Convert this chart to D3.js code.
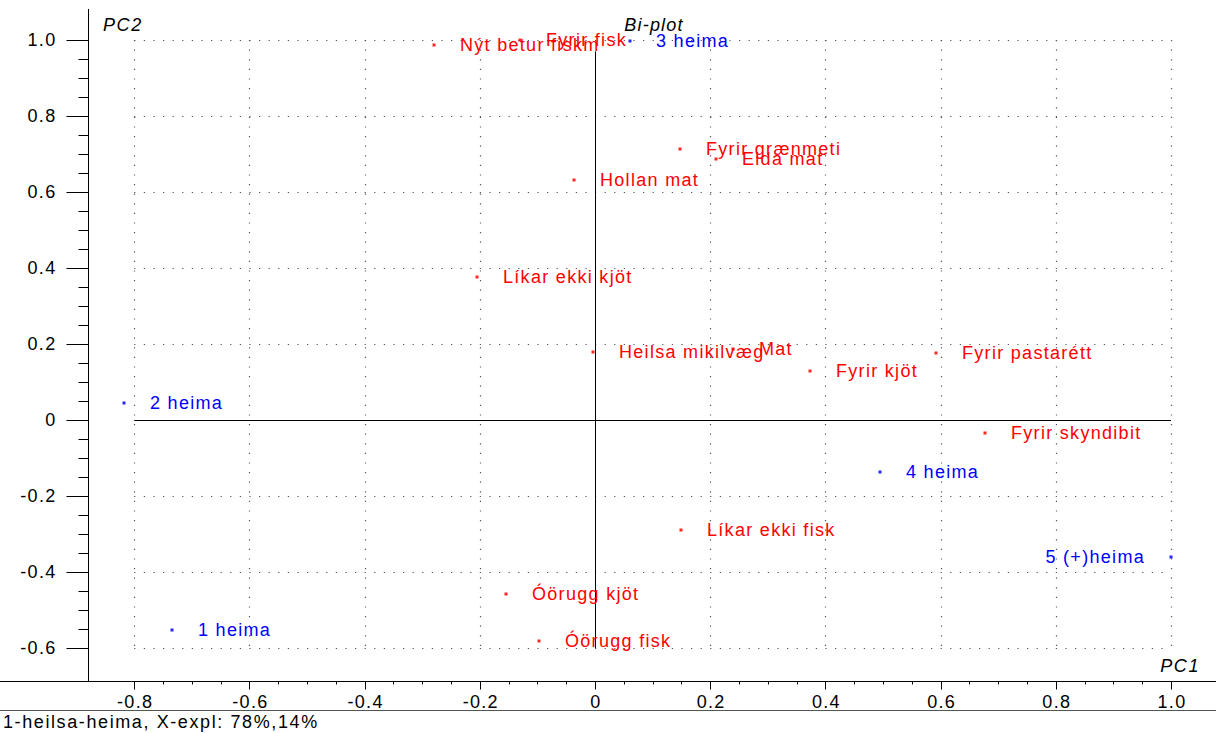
<!DOCTYPE html>
<html>
<head>
<meta charset="utf-8">
<script src="https://cdn.jsdelivr.net/npm/d3@7"></script>
<style>
  body { margin: 0; background: #fff; }
  svg { font-family: Arial, "Liberation Sans", sans-serif; }
</style>
</head>
<body>
<svg id="chart"></svg>
<script>
// Labels, PC1 and PC2 values, and which group each point belongs to
const labels = ['Nýt betur fiskm', 'Fyrir fisk', '3 heima', 'Fyrir grænmeti', 'Elda mat', 'Hollan mat',
  'Líkar ekki kjöt', 'Heilsa mikilvæg', 'Mat', 'Fyrir kjöt', 'Fyrir pastarétt', 'Fyrir skyndibit',
  '4 heima', 'Líkar ekki fisk', '5 (+)heima', '2 heima', '1 heima', 'Óörugg kjöt', 'Óörugg fisk'];
const pc1 = [-0.280, -0.130, 0.061, 0.148, 0.210, -0.036, -0.205, -0.003, 0.240, 0.373, 0.592, 0.677,
  0.495, 0.149, 1.000, -0.818, -0.734, -0.155, -0.097];
const pc2 = [0.987, 1.000, 0.997, 0.713, 0.688, 0.632, 0.376, 0.179, 0.187, 0.129, 0.176, -0.034,
  -0.137, -0.289, -0.360, 0.045, -0.553, -0.458, -0.582];
const kind = ['var', 'var', 'obj', 'var', 'var', 'var', 'var', 'var', 'var', 'var', 'var', 'var',
  'obj', 'var', 'obj', 'obj', 'obj', 'var', 'var'];
const majorTicksX = [-0.8, -0.6, -0.4, -0.2, 0, 0.2, 0.4, 0.6, 0.8, 1.0];
const majorTicksY = [-0.6, -0.4, -0.2, 0, 0.2, 0.4, 0.6, 0.8, 1.0];
const footer = '1-heilsa-heima, X-expl: 78%,14%';

const width = 1216, height = 733;
const axisX = 88, axisY = 681;
const spacing = '1.3px';

const svg = d3.select('#chart')
  .attr('width', width)
  .attr('height', height);

const x = d3.scaleLinear().domain([-0.8, 1.0]).range([134.2, 1171]);
const y = d3.scaleLinear().domain([-0.6, 1.0]).range([648, 40]);

const minorX = d3.range(-0.8, 1.0001, 0.05).map(v => +v.toFixed(2));
const minorY = d3.range(-0.6, 1.0001, 0.05).map(v => +v.toFixed(2));

// Dotted grid at each major tick
const grid = svg.append('g').attr('class', 'grid')
  .attr('stroke', '#555').attr('stroke-width', 1.2)
  .attr('stroke-dasharray', '1.2,8.4');
grid.selectAll('.gx').data(majorTicksX.filter(d => d !== 0)).enter().append('line')
  .attr('x1', d => Math.round(x(d)) + 0.5).attr('x2', d => Math.round(x(d)) + 0.5)
  .attr('y1', y(1.0)).attr('y2', y(-0.6));
grid.selectAll('.gy').data(majorTicksY.filter(d => d !== 0)).enter().append('line')
  .attr('y1', d => Math.round(y(d)) + 0.5).attr('y2', d => Math.round(y(d)) + 0.5)
  .attr('x1', x(-0.8)).attr('x2', x(1.0));

// Solid lines through the origin
svg.append('line')
  .attr('x1', x(-0.8)).attr('x2', x(1.0))
  .attr('y1', Math.round(y(0)) + 0.5).attr('y2', Math.round(y(0)) + 0.5)
  .attr('stroke', '#000');
svg.append('line')
  .attr('x1', Math.round(x(0)) + 0.5).attr('x2', Math.round(x(0)) + 0.5)
  .attr('y1', y(0.97)).attr('y2', y(-0.6))
  .attr('stroke', '#000');

// Y axis (ticks to the left)
const gy = svg.append('g').attr('transform', `translate(${axisX + 0.5},0)`);
gy.append('line').attr('y1', 9).attr('y2', axisY).attr('stroke', '#000');
gy.selectAll('.tk').data(minorY).enter().append('line')
  .attr('y1', d => Math.round(y(d)) + 0.5).attr('y2', d => Math.round(y(d)) + 0.5)
  .attr('x1', d => majorTicksY.some(m => Math.abs(m - d) < 1e-6) ? -22 : -10).attr('x2', 0)
  .attr('stroke', '#000');
gy.selectAll('.lb').data(majorTicksY).enter().append('text')
  .attr('x', -32).attr('y', d => y(d))
  .attr('dy', '0.36em')
  .attr('text-anchor', 'end')
  .attr('font-size', 18)
  .style('letter-spacing', spacing)
  .text(d => d === 0 ? '0' : d.toFixed(1));

// X axis (ticks downward)
const gx = svg.append('g').attr('transform', `translate(0,${axisY + 0.5})`);
gx.append('line').attr('x1', 0).attr('x2', width).attr('stroke', '#000');
gx.selectAll('.tk').data(minorX).enter().append('line')
  .attr('x1', d => Math.round(x(d)) + 0.5).attr('x2', d => Math.round(x(d)) + 0.5)
  .attr('y1', 0).attr('y2', d => majorTicksX.some(m => Math.abs(m - d) < 1e-6) ? 8 : 3)
  .attr('stroke', '#000');
gx.selectAll('.lb').data(majorTicksX).enter().append('text')
  .attr('x', d => x(d) + 1).attr('y', 26)
  .attr('text-anchor', 'middle')
  .attr('font-size', 18)
  .style('letter-spacing', spacing)
  .text(d => d === 0 ? '0' : d.toFixed(1));

// Separator and footer
svg.append('line').attr('x1', 0).attr('x2', width)
  .attr('y1', 710.5).attr('y2', 710.5).attr('stroke', '#555');
svg.append('text').attr('x', 3).attr('y', 728)
  .attr('font-size', 18)
  .style('letter-spacing', '1.6px')
  .text(footer);

// Axis titles
svg.append('text').attr('x', 103).attr('y', 31)
  .attr('font-size', 18).attr('font-style', 'italic')
  .style('letter-spacing', '1.6px').text('PC2');
svg.append('text').attr('x', 1200).attr('y', 672)
  .attr('text-anchor', 'end')
  .attr('font-size', 18).attr('font-style', 'italic')
  .style('letter-spacing', '1.6px').text('PC1');
svg.append('text').attr('x', 654).attr('y', 31)
  .attr('text-anchor', 'middle')
  .attr('font-size', 18).attr('font-style', 'italic')
  .style('letter-spacing', '1.2px').text('Bi-plot');

// Points and labels
const data = labels.map((l, i) => ({ label: l, x: pc1[i], y: pc2[i], kind: kind[i] }));
const color = d => d.kind === 'obj' ? '#0000ff' : '#ff0000';

const pts = svg.append('g').selectAll('.pt').data(data).enter().append('g')
  .attr('transform', d => `translate(${Math.round(x(d.x))},${Math.round(y(d.y))})`);
pts.append('rect')
  .attr('x', -1.5).attr('y', -1.5).attr('width', 3).attr('height', 3)
  .attr('fill', color).attr('opacity', 0.85);
pts.append('text')
  .attr('x', d => x(d.x) > 1100 ? -26 : 26)
  .attr('text-anchor', d => x(d.x) > 1100 ? 'end' : 'start')
  .attr('dy', '0.36em')
  .attr('font-size', 18)
  .style('letter-spacing', spacing)
  .attr('fill', color)
  .text(d => d.label);
</script>
</body>
</html>
